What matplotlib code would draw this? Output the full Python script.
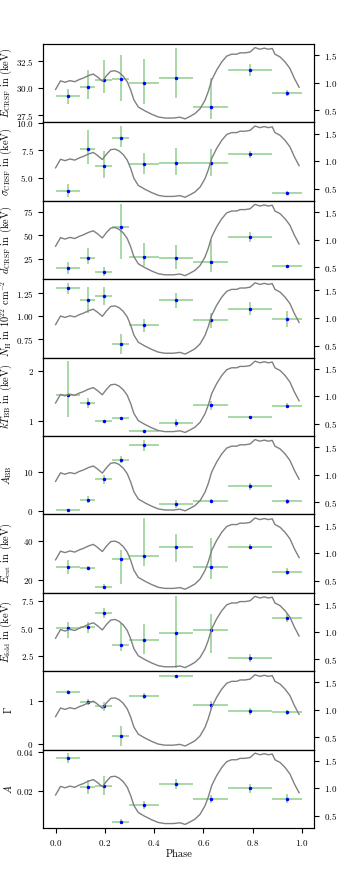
import numpy as np
import matplotlib
matplotlib.use('Agg')
import matplotlib.pyplot as plt

plt.rcParams['font.family'] = 'serif'
plt.rcParams['font.serif'] = ['cmr10']
plt.rcParams['mathtext.fontset'] = 'cm'
plt.rcParams['axes.formatter.use_mathtext'] = True

# phase bins (centre, half width)
phase = [0.05, 0.13, 0.195, 0.265, 0.36, 0.49, 0.63, 0.79, 0.94]
phase_err = [0.05, 0.03, 0.033, 0.035, 0.06, 0.07, 0.07, 0.09, 0.06]

# pulse profile (right axis)
prof_phase = [0.0, 0.02, 0.038, 0.058, 0.078, 0.096, 0.112, 0.133, 0.153, 0.169,
              0.19, 0.207, 0.224, 0.241, 0.257, 0.275, 0.291, 0.305, 0.318, 0.336,
              0.363, 0.39, 0.417, 0.444, 0.478, 0.505, 0.526, 0.546, 0.566, 0.587,
              0.607, 0.62, 0.634, 0.654, 0.675, 0.695, 0.715, 0.736, 0.749, 0.77,
              0.79, 0.81, 0.83, 0.848, 0.864, 0.88, 0.891, 0.912, 0.932, 0.952,
              0.97, 0.989]
prof_rate = [0.88, 1.036, 1.01, 1.04, 1.02, 1.06, 1.085, 1.13, 1.16, 1.11,
             1.03, 1.13, 1.21, 1.22, 1.19, 1.12, 1.02, 0.87, 0.69, 0.56,
             0.49, 0.43, 0.38, 0.36, 0.36, 0.375, 0.345, 0.39, 0.44, 0.53,
             0.685, 0.84, 1.05, 1.23, 1.38, 1.485, 1.52, 1.52, 1.545, 1.545,
             1.56, 1.64, 1.61, 1.63, 1.61, 1.625, 1.52, 1.47, 1.38, 1.26,
             1.08, 0.92]

# parameters: value, lower error, upper error
e_crsf = [29.25, 30.13, 30.79, 30.82, 30.47, 30.97, 28.27, 31.7, 29.56]
e_crsf_lo = [0.72, 1.1, 1.26, 2.0, 1.9, 1.9, 1.1, 0.55, 0.3]
e_crsf_hi = [0.72, 1.6, 1.8, 2.3, 2.2, 2.8, 2.67, 0.55, 0.3]

sigma_crsf = [3.83, 7.56, 6.05, 8.64, 6.26, 6.36, 6.36, 7.11, 3.64]
sigma_crsf_lo = [0.6, 1.27, 1.1, 0.84, 0.95, 1.1, 1.2, 0.35, 0.2]
sigma_crsf_hi = [0.6, 1.8, 1.36, 1.05, 0.95, 1.3, 1.2, 0.35, 0.2]

d_crsf = [15.0, 25.5, 11.5, 59.1, 27.3, 25.9, 22.0, 48.6, 17.1]
d_crsf_lo = [6.5, 6.3, 4.4, 34.0, 9.8, 11.9, 11.0, 5.2, 1.7]
d_crsf_hi = [6.5, 11.0, 4.4, 24.0, 14.7, 14.3, 23.0, 5.2, 1.7]

nh = [1.304, 1.178, 1.221, 0.696, 0.902, 1.174, 0.953, 1.083, 0.964]
nh_lo = [0.06, 0.145, 0.1, 0.11, 0.07, 0.08, 0.085, 0.07, 0.087]
nh_hi = [0.06, 0.14, 0.1, 0.11, 0.07, 0.08, 0.085, 0.07, 0.087]

kt_bb = [1.53, 1.37, 1.0, 1.06, 0.80, 0.974, 1.325, 1.08, 1.31]
kt_bb_lo = [0.44, 0.1, 0.03, 0.025, 0.02, 0.08, 0.09, 0.02, 0.05]
kt_bb_hi = [0.67, 0.1, 0.03, 0.025, 0.02, 0.08, 0.09, 0.02, 0.05]

a_bb = [0.26, 2.96, 8.17, 13.3, 16.96, 1.74, 2.6, 6.35, 2.5]
a_bb_lo = [0.2, 0.9, 1.2, 0.95, 1.5, 1.0, 0.45, 0.9, 0.55]
a_bb_hi = [0.2, 0.9, 1.2, 0.95, 1.5, 1.0, 0.45, 0.9, 0.55]

e_cut = [26.8, 26.2, 16.9, 30.9, 32.3, 36.75, 26.7, 36.9, 24.3]
e_cut_lo = [3.6, 1.0, 1.3, 12.6, 5.1, 7.35, 5.8, 1.4, 1.7]
e_cut_hi = [3.6, 1.0, 1.3, 4.4, 19.0, 6.7, 14.7, 1.4, 1.7]

e_fold = [5.0, 5.09, 6.34, 3.48, 3.96, 4.52, 4.85, 2.29, 5.95]
e_fold_lo = [0.9, 0.5, 0.45, 0.57, 1.34, 3.1, 2.08, 0.33, 0.4]
e_fold_hi = [0.6, 0.5, 0.45, 1.96, 1.43, 3.36, 1.43, 0.33, 0.4]

gamma = [1.226, 0.984, 0.879, 0.185, 1.12, 1.59, 0.91, 0.766, 0.742]
gamma_lo = [0.03, 0.08, 0.1, 0.23, 0.07, 0.03, 0.1, 0.08, 0.06]
gamma_hi = [0.03, 0.08, 0.1, 0.23, 0.07, 0.03, 0.1, 0.08, 0.06]

norm = [0.0368, 0.0218, 0.0225, 0.0039, 0.0126, 0.0233, 0.0156, 0.0212, 0.0158]
norm_lo = [0.0026, 0.0035, 0.005, 0.0015, 0.0022, 0.0026, 0.002, 0.0023, 0.0023]
norm_hi = [0.0026, 0.0035, 0.005, 0.0015, 0.0022, 0.0026, 0.002, 0.0023, 0.0023]

params = [
    (e_crsf, e_crsf_lo, e_crsf_hi, r'$E_\mathrm{CRSF}$ in (keV)', [27.5, 30.0, 32.5]),
    (sigma_crsf, sigma_crsf_lo, sigma_crsf_hi, r'$\sigma_\mathrm{CRSF}$ in (keV)', [5.0, 7.5, 10.0]),
    (d_crsf, d_crsf_lo, d_crsf_hi, r'$d_\mathrm{CRSF}$ in (keV)', [25, 50, 75]),
    (nh, nh_lo, nh_hi, r'$N_\mathrm{H}$ in $10^{22}$ cm$^{-2}$', [0.75, 1.00, 1.25]),
    (kt_bb, kt_bb_lo, kt_bb_hi, r'$kT_\mathrm{BB}$ in (keV)', [1, 2]),
    (a_bb, a_bb_lo, a_bb_hi, r'$A_\mathrm{BB}$', [0, 10]),
    (e_cut, e_cut_lo, e_cut_hi, r'$E_\mathrm{cut}$ in (keV)', [20, 40]),
    (e_fold, e_fold_lo, e_fold_hi, r'$E_\mathrm{fold}$ in (keV)', [2.5, 5.0, 7.5]),
    (gamma, gamma_lo, gamma_hi, r'$\Gamma$', [0, 1]),
    (norm, norm_lo, norm_hi, r'$A$', [0.02, 0.04]),
]

fig, axes = plt.subplots(len(params), 1, sharex=True, figsize=(3.49, 8.72), dpi=100)
fig.subplots_adjust(left=0.124, right=0.9, top=0.9495, bottom=0.0505, hspace=0)

for ax, (val, lo, hi, label, ticks) in zip(axes, params):
    ax.errorbar(phase, val, xerr=phase_err, yerr=[lo, hi], fmt='.', color='b',
                ms=3, ecolor='tab:green', elinewidth=1.3, zorder=3)
    for coll in ax.collections:
        coll.set_alpha(0.45)
    ax.set_yticks(ticks)
    ax.set_ylabel(label, fontsize=7.5)
    ax.yaxis.set_label_coords(-0.108, 0.5)
    ax.tick_params(labelsize=6.5)
    ax.tick_params(axis='x', which='both', bottom=False)
    tw = ax.twinx()
    tw.plot(prof_phase, prof_rate, color='gray', lw=1)
    tw.set_yticks([0.5, 1.0, 1.5])
    tw.tick_params(labelsize=6.5)

axes[-1].tick_params(axis='x', bottom=True)
axes[-1].set_xticks([0.0, 0.2, 0.4, 0.6, 0.8, 1.0])
axes[-1].set_xlabel('Phase', fontsize=7.5, labelpad=1)

plt.savefig('out.png', dpi=100)
